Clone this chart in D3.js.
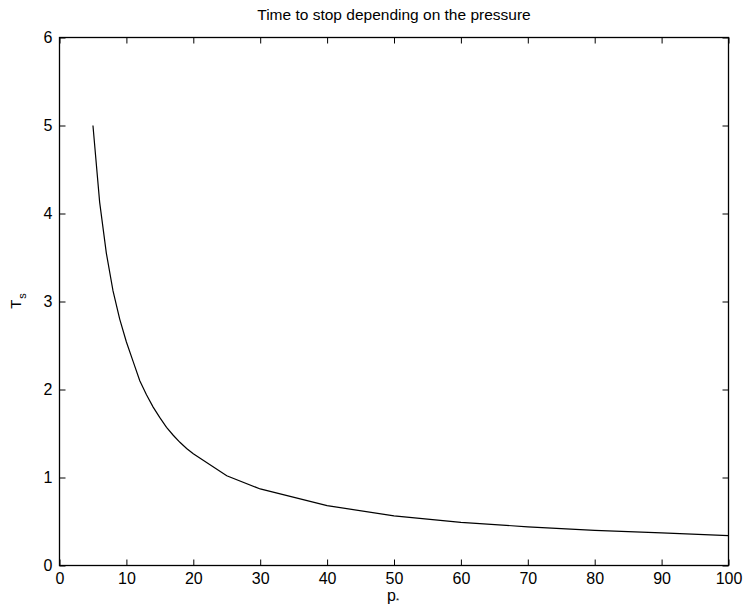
<!DOCTYPE html>
<html>
<head>
<meta charset="utf-8">
<script src="https://cdn.jsdelivr.net/npm/d3@7"></script>
<style>
  html, body { margin: 0; padding: 0; background: #fff; }
  svg { display: block; font-family: "Liberation Sans", Arial, Helvetica, sans-serif; }
</style>
</head>
<body>
<svg id="chart" width="745" height="609"></svg>
<script>
// Stopping time T_s as a function of the pressure p*
const pressure = [5, 6, 7, 8, 9, 10, 11, 12, 13, 14, 15, 16, 17, 18, 19, 20, 25, 30, 40, 50, 60, 70, 80, 90, 100];
const stopTime = [5.0, 4.13, 3.55, 3.12, 2.8, 2.54, 2.32, 2.1, 1.94, 1.8, 1.68, 1.57, 1.48, 1.4, 1.33, 1.27, 1.02, 0.87, 0.68, 0.565, 0.49, 0.44, 0.4, 0.37, 0.34];
const xTicks = [0, 10, 20, 30, 40, 50, 60, 70, 80, 90, 100];
const yTicks = [0, 1, 2, 3, 4, 5, 6];

(function draw() {
  const svg = d3.select("#chart");
  const plotLeft = 59.5, plotRight = 728.5, plotTop = 37.5, plotBottom = 565.5;
  const tickLen = 6;
  const fmt = d3.format("d");

  const x = d3.scaleLinear().domain([0, 100]).range([plotLeft, plotRight]);
  const y = d3.scaleLinear().domain([0, 6]).range([plotBottom, plotTop]);

  // Bottom axis with labels, inward ticks
  const xAxis = svg.append("g").attr("transform", `translate(0,${plotBottom})`)
    .call(d3.axisBottom(x).tickValues(xTicks).tickFormat(fmt).tickSizeInner(-tickLen).tickSizeOuter(0).tickPadding(7));
  // Top mirror ticks
  const xAxisTop = svg.append("g").attr("transform", `translate(0,${plotTop})`)
    .call(d3.axisTop(x).tickValues(xTicks).tickSizeInner(-tickLen).tickSizeOuter(0).tickFormat(""));
  // Left axis with labels
  const yAxis = svg.append("g").attr("transform", `translate(${plotLeft},0)`)
    .call(d3.axisLeft(y).tickValues(yTicks).tickFormat(fmt).tickSizeInner(-tickLen).tickSizeOuter(0).tickPadding(7));
  // Right mirror ticks
  const yAxisRight = svg.append("g").attr("transform", `translate(${plotRight},0)`)
    .call(d3.axisRight(y).tickValues(yTicks).tickSizeInner(-tickLen).tickSizeOuter(0).tickFormat(""));

  [xAxis, xAxisTop, yAxis, yAxisRight].forEach(g => {
    g.select(".domain").remove();
    g.selectAll(".tick line").attr("stroke", "#000").attr("stroke-width", 1);
    g.selectAll("text").attr("font-family", "Liberation Sans, Arial, sans-serif")
      .attr("font-size", 16).attr("fill", "#000");
  });

  // Plot frame
  svg.append("rect")
    .attr("x", plotLeft).attr("y", plotTop)
    .attr("width", plotRight - plotLeft).attr("height", plotBottom - plotTop)
    .attr("fill", "none").attr("stroke", "#000").attr("stroke-width", 1.3);

  // Curve
  const line = d3.line().x((d, i) => x(pressure[i])).y(d => y(d));
  svg.append("path")
    .datum(stopTime)
    .attr("d", line)
    .attr("fill", "none")
    .attr("stroke", "#000")
    .attr("stroke-width", 1.2);

  // Title
  svg.append("text")
    .attr("x", (plotLeft + plotRight) / 2).attr("y", 19.5)
    .attr("text-anchor", "middle")
    .attr("font-size", 15.5)
    .text("Time to stop depending on the pressure");

  // X label: p*
  const xl = svg.append("text")
    .attr("x", (plotLeft + plotRight) / 2 - 1).attr("y", 601)
    .attr("text-anchor", "middle")
    .attr("font-size", 16);
  xl.append("tspan").text("p");
  xl.append("tspan").attr("font-size", 8).attr("dy", 2).text("*");

  // Y label: T_s
  const yl = svg.append("text")
    .attr("transform", `translate(21,301) rotate(-90)`)
    .attr("text-anchor", "middle")
    .attr("font-size", 15);
  yl.append("tspan").text("T");
  yl.append("tspan").attr("font-size", 11).attr("dy", 5).attr("dx", 1).text("s");
})();
</script>
</body>
</html>
